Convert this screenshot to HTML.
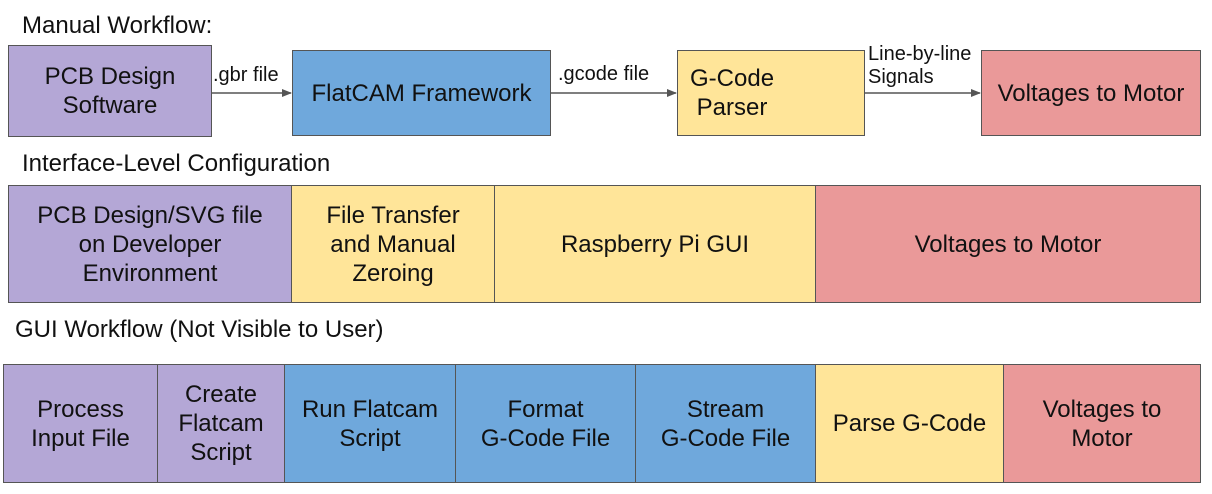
<!DOCTYPE html>
<html><head><style>
body{margin:0;width:1212px;height:494px;background:#fff;position:relative;font-family:"Liberation Sans",Arial,sans-serif;overflow:hidden}
.b{position:absolute;box-sizing:border-box;border:1px solid #555;display:flex;align-items:center;justify-content:center;text-align:center;font-size:24px;line-height:29px;color:#111}
.p{background:#b4a7d6}.bl{background:#6fa8dc}.y{background:#ffe599}.r{background:#ea9999}
.t{position:absolute;font-size:24px;color:#111;white-space:nowrap}
.s{position:absolute;font-size:20px;color:#111;white-space:nowrap;line-height:23px}
</style></head><body>
<div class="t" style="left:22px;top:12px">Manual Workflow:</div>
<div class="b p" style="left:8px;top:45px;width:204px;height:92px">PCB Design<br>Software</div>
<div class="b bl" style="left:292px;top:50px;width:259px;height:86px">FlatCAM Framework</div>
<div class="b y" style="left:677px;top:50px;width:188px;height:86px;justify-content:flex-start;text-align:left;padding-left:12px">G-Code<br>&nbsp;Parser</div>
<div class="b r" style="left:981px;top:50px;width:220px;height:86px">Voltages to Motor</div>
<svg style="position:absolute;left:0;top:0" width="1212" height="494">
<defs><marker id="a" markerWidth="10" markerHeight="8" refX="9" refY="4" orient="auto" markerUnits="userSpaceOnUse"><path d="M0,0 L10,4 L0,8z" fill="#555"/></marker></defs>
<line x1="212" y1="93" x2="291" y2="93" stroke="#555" stroke-width="1.5" marker-end="url(#a)"/>
<line x1="551" y1="93" x2="676" y2="93" stroke="#555" stroke-width="1.5" marker-end="url(#a)"/>
<line x1="865" y1="93" x2="980" y2="93" stroke="#555" stroke-width="1.5" marker-end="url(#a)"/>
</svg>
<div class="s" style="left:213px;top:64px">.gbr file</div>
<div class="s" style="left:558px;top:63px">.gcode file</div>
<div class="s" style="left:868px;top:43px">Line-by-line<br>Signals</div>
<div class="t" style="left:22px;top:150px">Interface-Level Configuration</div>
<div class="b p" style="left:8px;top:185px;width:284px;height:118px">PCB Design/SVG file<br>on Developer<br>Environment</div>
<div class="b y" style="left:291px;top:185px;width:204px;height:118px">File Transfer<br>and Manual<br>Zeroing</div>
<div class="b y" style="left:494px;top:185px;width:322px;height:118px">Raspberry Pi GUI</div>
<div class="b r" style="left:815px;top:185px;width:386px;height:118px">Voltages to Motor</div>
<div class="t" style="left:15px;top:316px">GUI Workflow (Not Visible to User)</div>
<div class="b p" style="left:3px;top:364px;width:155px;height:119px">Process<br>Input File</div>
<div class="b p" style="left:157px;top:364px;width:128px;height:119px">Create<br>Flatcam<br>Script</div>
<div class="b bl" style="left:284px;top:364px;width:172px;height:119px">Run Flatcam<br>Script</div>
<div class="b bl" style="left:455px;top:364px;width:181px;height:119px">Format<br>G-Code File</div>
<div class="b bl" style="left:635px;top:364px;width:181px;height:119px">Stream<br>G-Code File</div>
<div class="b y" style="left:815px;top:364px;width:189px;height:119px">Parse G-Code</div>
<div class="b r" style="left:1003px;top:364px;width:198px;height:119px">Voltages to<br>Motor</div>
</body></html>
